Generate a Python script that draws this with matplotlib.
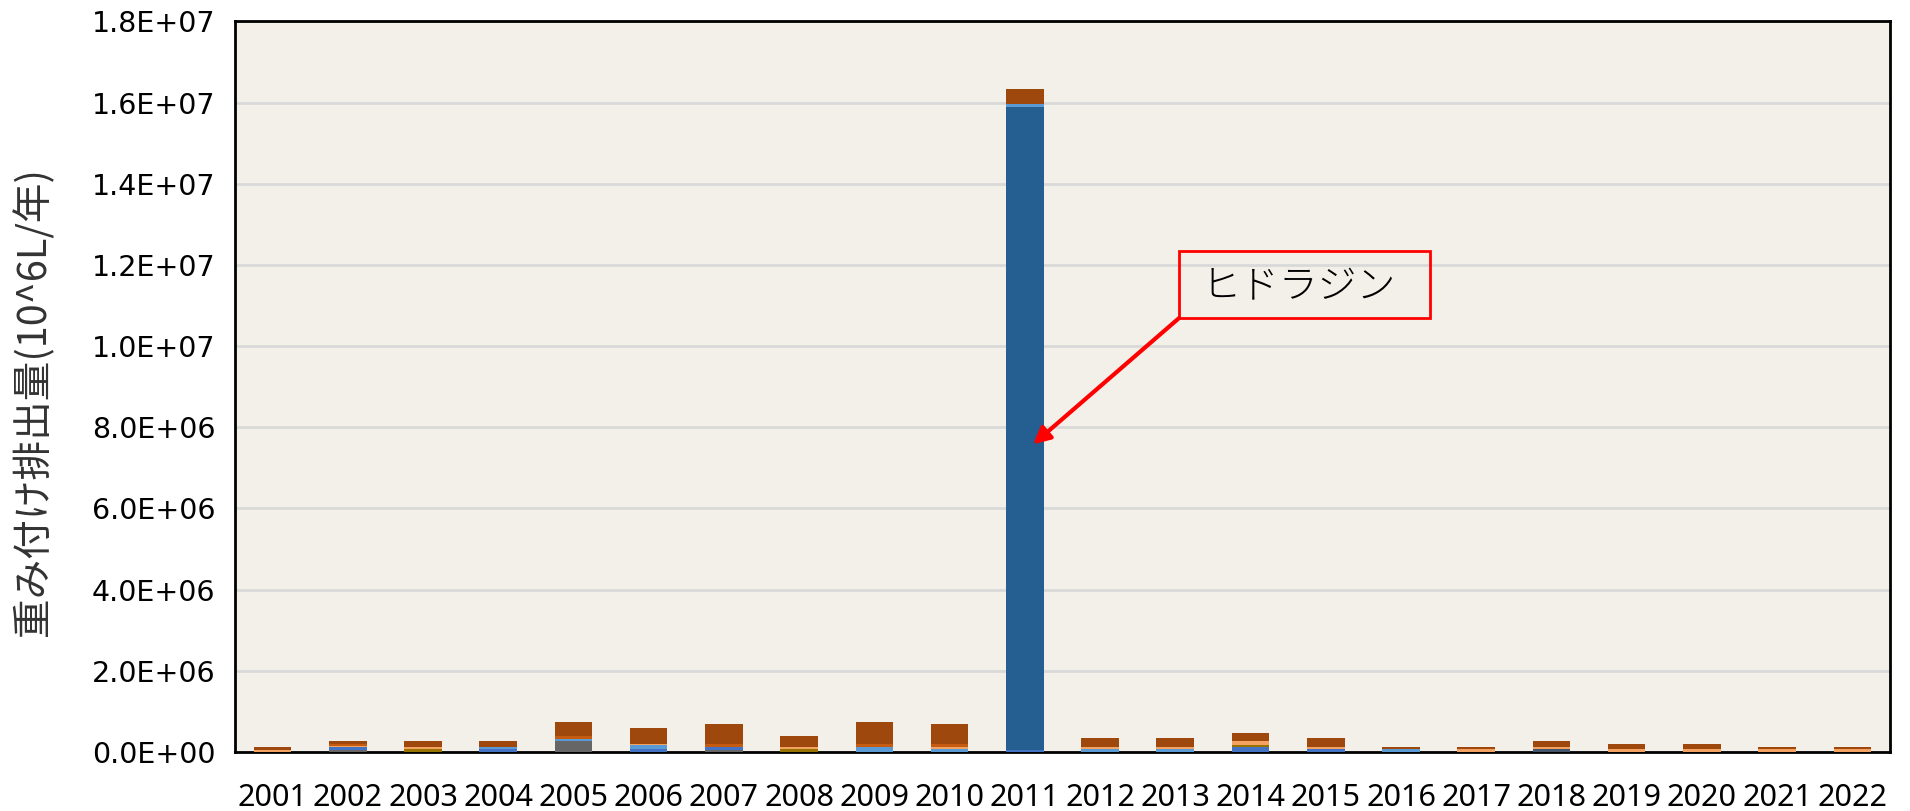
import matplotlib
matplotlib.use("Agg")
import matplotlib.pyplot as plt
from matplotlib.ticker import FuncFormatter, MultipleLocator
from matplotlib.patches import Rectangle
import numpy as np

years = [str(y) for y in range(2001, 2023)]

# stacked series (values in L/yr weighted, bottom -> top)
grey      = [0, 0.06e6, 0, 0, 0.26e6, 0, 0.06e6, 0, 0, 0, 0, 0, 0, 0, 0, 0, 0, 0, 0, 0, 0, 0]
slate     = [0, 0, 0, 0, 0, 0, 0, 0, 0, 0, 0, 0, 0, 0, 0, 0, 0, 0.065e6, 0, 0, 0, 0]
blue      = [0, 0.06e6, 0, 0.065e6, 0, 0.08e6, 0.065e6, 0, 0, 0, 0.06e6, 0, 0, 0.12e6, 0.065e6, 0, 0, 0, 0, 0, 0, 0]
olive     = [0, 0, 0.065e6, 0, 0, 0, 0, 0.065e6, 0, 0, 0, 0, 0, 0.05e6, 0, 0, 0, 0, 0, 0, 0, 0]
hydrazine = [0, 0, 0, 0, 0, 0, 0, 0, 0, 0, 15.84e6, 0, 0, 0, 0, 0, 0, 0, 0, 0, 0, 0]
lightblue = [0, 0, 0, 0.06e6, 0.065e6, 0.10e6, 0, 0, 0.12e6, 0.065e6, 0.06e6, 0.065e6, 0.065e6, 0, 0, 0.065e6, 0, 0, 0, 0, 0, 0]
lightorange = [0.06e6, 0.03e6, 0.06e6, 0, 0, 0.02e6, 0, 0.065e6, 0, 0.065e6, 0, 0.06e6, 0.06e6, 0.09e6, 0.06e6, 0, 0.065e6, 0.065e6, 0.065e6, 0.065e6, 0.065e6, 0.065e6]
orange    = [0, 0.05e6, 0, 0, 0.075e6, 0, 0.08e6, 0, 0.08e6, 0.075e6, 0, 0, 0, 0, 0, 0, 0, 0, 0, 0, 0, 0]
brown     = [0.07e6, 0.07e6, 0.15e6, 0.14e6, 0.34e6, 0.40e6, 0.475e6, 0.27e6, 0.54e6, 0.475e6, 0.37e6, 0.21e6, 0.21e6, 0.21e6, 0.21e6, 0.065e6, 0.065e6, 0.14e6, 0.14e6, 0.14e6, 0.065e6, 0.065e6]

series = [grey, slate, blue, olive, hydrazine, lightblue, lightorange, orange, brown]
colors = ["#666666", "#44546A", "#4472C4", "#997300", "#255E91", "#5B9BD5", "#F4A261", "#C55A11", "#9E480E"]

ylabel = "重み付け排出量(10^6L/年)"
annot_text = "ヒドラジン"

fig = plt.figure(figsize=(19.10, 8.11), dpi=100)
ax = fig.add_axes([0.123, 0.0727, 0.8665, 0.901])
ax.set_facecolor("#F3F0E9")

x = np.arange(len(years))
bottom = np.zeros(len(years))
for s, c in zip(series, colors):
    vals = np.array(s, dtype=float)
    ax.bar(x, vals, width=0.5, bottom=bottom, color=c, edgecolor="none", zorder=3)
    bottom += vals

ax.set_xlim(-0.5, len(years) - 0.5)
ax.set_ylim(0, 1.8e7)
ax.yaxis.set_major_locator(MultipleLocator(2e6))
ax.yaxis.set_major_formatter(FuncFormatter(lambda v, p: f"{v:.1E}"))
ax.grid(axis="y", color="#D9D9D9", linewidth=2, zorder=0)
ax.set_axisbelow(True)

ax.set_xticks(x)
ax.set_xticklabels(years, fontsize=22, family=["Noto Sans", "DejaVu Sans"])
for lab in ax.get_yticklabels():
    lab.set_fontsize(20.5)
    lab.set_family("DejaVu Sans")
ax.tick_params(axis="both", length=0)
ax.tick_params(axis="y", pad=14)
ax.tick_params(axis="x", pad=22)

for sp in ax.spines.values():
    sp.set_color("black")
    sp.set_linewidth(2)

ax.set_ylabel(ylabel, fontsize=28.5, family=["Noto Sans CJK JP", "DejaVu Sans"], color="#333333")
ax.yaxis.set_label_coords(-0.109, 0.48)

# annotation box and arrow
box_x0, box_x1 = 12.05, 15.39
box_y0, box_y1 = 10.69e6, 12.35e6
rect = Rectangle((box_x0, box_y0), box_x1 - box_x0, box_y1 - box_y0,
                 facecolor="none", edgecolor="#FF0000", linewidth=2, zorder=5)
ax.add_patch(rect)
ax.text(13.64, (box_y0 + box_y1) / 2 - 0.05e6, annot_text,
        ha="center", va="center", fontsize=28,
        family=["Noto Sans CJK JP", "DejaVu Sans"], fontweight="light", color="black", zorder=6)
ax.annotate("", xy=(10.11, 7.58e6), xytext=(box_x0, box_y0),
            arrowprops=dict(arrowstyle="-|>", color="#FF0000", lw=3, mutation_scale=25,
                            shrinkA=0, shrinkB=0), zorder=6)

fig.savefig("out.png", dpi=100, facecolor="white")
